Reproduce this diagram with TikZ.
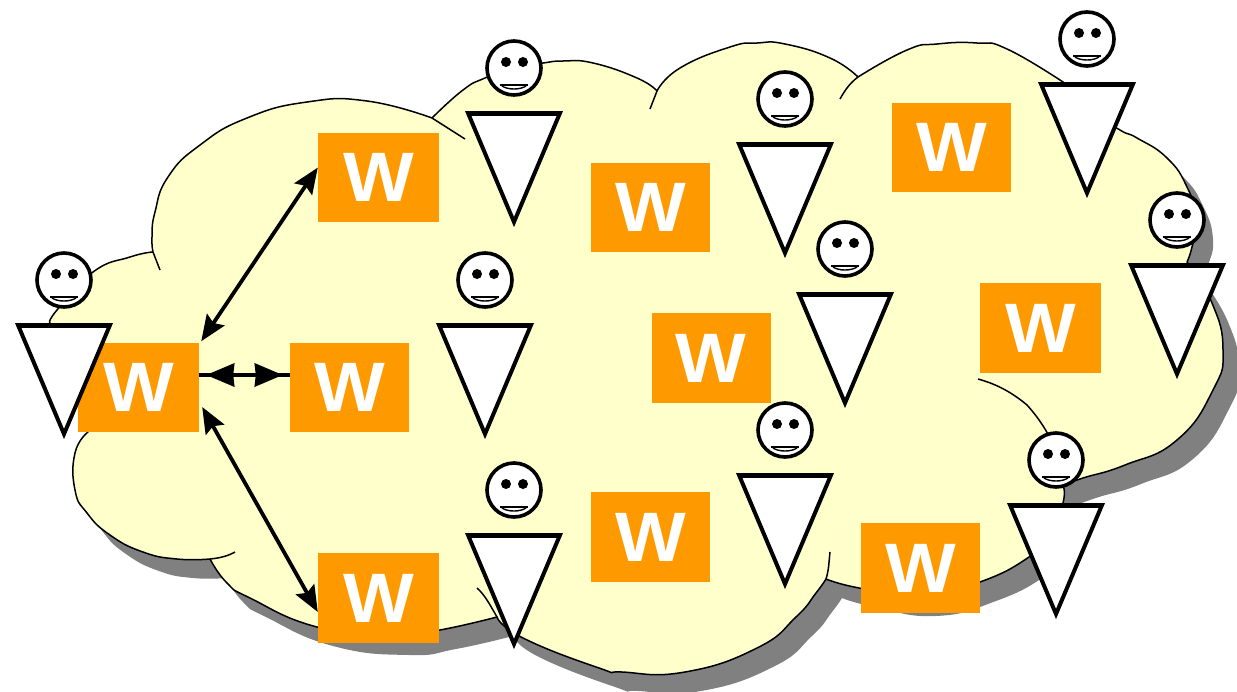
\documentclass[tikz,border=0pt]{standalone}
\usepackage{fontspec}
\setmainfont{Liberation Sans}
\newfontfamily\wfont[FakeStretch=1.07]{Liberation Sans}
\usetikzlibrary{arrows.meta}
\definecolor{cloudy}{HTML}{FFFFCC}
\definecolor{wbox}{HTML}{FF9900}
\definecolor{dropgrey}{HTML}{808080}
\newcommand{\cloudpath}{
 plot[smooth,tension=.85] coordinates {(153,252) (152,237) (155,212) (168,177) (200,145) (247,118) (307,102) (367,101) (432,118)}
 -- plot[smooth,tension=.85] coordinates {(432,118) (463,90) (485,78) (515,67) (543,63) (563,61) (593,63) (637,78) (657,91)}
 -- plot[smooth,tension=.85] coordinates {(657,91) (680,68) (730,47) (757,43) (785,44) (830,58) (858,77)}
 -- plot[smooth,tension=.85] coordinates {(858,77) (907,50) (937,44) (977,43) (1007,49) (1063,82)}
 -- plot[smooth,tension=.85] coordinates {(1063,82) (1090,110) (1120,130) (1137,138) (1167,158) (1187,187) (1197,220) (1192,247) (1187,262)}
 -- plot[smooth,tension=.85] coordinates {(1187,262) (1212,303) (1223,350) (1213,390) (1177,440) (1125,465) (1083,478) (1063,485)}
 -- plot[smooth,tension=.85] coordinates {(1063,485) (1063,503) (1050,535) (1029,557) (980,582) (920,597) (859,588) (826,579)}
 -- plot[smooth,tension=.85] coordinates {(826,579) (816,593) (796,617) (757,648) (685,672) (622,672) (599,668) (523,638) (497,617)}
 -- plot[smooth,tension=.85] coordinates {(497,617) (440,630) (393,636) (317,627) (250,598) (227,583) (210,559)}
 -- plot[smooth,tension=.85] coordinates {(210,559) (177,559) (143,552) (110,535) (87,513) (75,490) (75,453) (88,432)}
 -- (50,323)
 -- plot[smooth,tension=.85] coordinates {(50,323) (57,310) (93,272) (130,257) (153,252)} -- cycle}
\tikzset{
 x=1pt,y=-1pt,
 wnode/.style={fill=wbox,text=white,font=\fontsize{70}{70}\wfont\bfseries,inner sep=0pt,minimum width=120pt,minimum height=89pt},
 link/.style={line width=3.8pt,{Stealth[length=26pt,width=21pt,inset=4pt]}-{Stealth[length=26pt,width=21pt,inset=4pt]}},
 plainlink/.style={line width=3.8pt},
 blunt/.style={line width=3.8pt,shorten <=7pt,shorten >=7pt,{Stealth[length=28pt,width=23pt,inset=1pt]}-{Stealth[length=28pt,width=23pt,inset=1pt]}},
 edge/.style={line width=1.5pt,black,line join=round},
 headnode/.style={circle,draw=black,line width=3.6pt,fill=white,minimum size=54pt,inner sep=0pt},
 bodytri/.style={draw=black,fill=white,line width=4pt,miter limit=10}
}
\begin{document}
\begin{tikzpicture}
\useasboundingbox (0,0) rectangle (1237,691);
\fill[dropgrey,xshift=16pt,yshift=-19pt] \cloudpath;
\fill[cloudy] \cloudpath;
\draw[edge] \cloudpath;
\draw[edge] (153,252) -- (160,270);
\draw[edge] (432,118) -- (465,139);
\draw[edge] (657,91) -- (650,109);
\draw[edge] (858,77) .. controls (850,83) and (845,90) .. (840,99);
\draw[edge] (978,379) .. controls (1000,385) and (1015,395) .. (1027,405) .. controls (1045,425) and (1060,450) .. (1063,485);
\draw[edge] (826,579) .. controls (829,570) and (829,560) .. (830,552);
\draw[edge] (497,617) .. controls (490,605) and (485,595) .. (477,588);
\draw[edge] (210,559) .. controls (220,558) and (228,556) .. (235,552);
\node[wnode,minimum width=121pt] (wa) at (378.5,177.5) {W};
\node[wnode,minimum width=119pt] (w2) at (650.5,207.5) {W};
\node[wnode,minimum width=119pt] (w3) at (951.5,147) {W};
\node[wnode,minimum width=121pt,minimum height=90pt] (w4) at (1040.5,328) {W};
\node[wnode,minimum width=119pt,minimum height=90pt] (w5) at (711,358) {W};
\node[wnode,minimum width=121pt] (wl) at (138.5,387) {W};
\node[wnode,minimum width=119pt] (wb) at (349.5,387) {W};
\node[wnode,minimum width=119pt,minimum height=90pt] (w6) at (650.5,537) {W};
\node[wnode,minimum width=121pt,minimum height=90pt] (wc) at (378.5,598) {W};
\node[wnode,minimum width=119pt,minimum height=90pt] (w7) at (920.5,568) {W};
\draw[link] ([xshift=2pt,yshift=1pt]wl.north east) -- ([yshift=10pt]wa.west);
\draw[plainlink] ([yshift=12pt]wl.east) -- ([yshift=12pt]wb.west);
\draw[blunt] ([yshift=12pt]wl.east) -- ([yshift=12pt]wb.west);
\draw[link] ([xshift=3pt,yshift=-20pt]wl.east) -- ([yshift=-14pt]wc.west);
\foreach \n/\cx/\cy in {a/64/280,b/514/68,c/485/280,d/514/490,e/785/99,f/845/249,g/785/430,h/1087/39,i/1177/220,j/1056/460}{
 \node[headnode] (head\n) at (\cx,\cy) {};
 \fill (\cx-8,\cy-6) circle (5pt) (\cx+9,\cy-6) circle (5pt);
 \draw[line width=2pt] (\cx-14,\cy+17) -- (\cx+14,\cy+17);
 \draw[line width=1.4pt] (\cx-12,\cy+18) .. controls (\cx-6,\cy+22) and (\cx+6,\cy+22) .. (\cx+12,\cy+18);
 \draw[bodytri] (\cx-46,\cy+45) -- (\cx+46,\cy+45) -- (\cx,\cy+154) -- cycle;
 \draw[line width=5pt] (\cx-46,\cy+45) -- (\cx+46,\cy+45);
}
\end{tikzpicture}
\end{document}
